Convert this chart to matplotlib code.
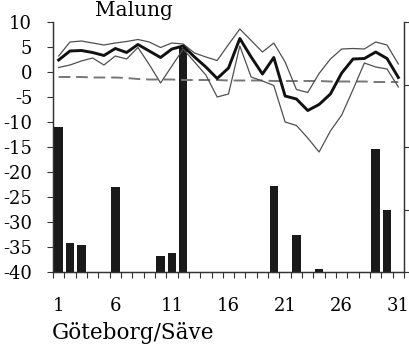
import matplotlib
matplotlib.use('Agg')
from matplotlib import pyplot as plt
import numpy as np

# daily temperatures, Malung (deg C)
days = list(range(1, 32))
t_max = [3.2, 6.0, 6.2, 5.8, 5.4, 5.8, 6.1, 6.5, 6.0, 4.9, 5.8, 5.6, 3.8, 3.0, 2.3, 5.5,
         8.6, 6.3, 4.0, 5.8, 2.0, -3.5, -4.1, -0.3, 2.6, 4.6, 4.7, 4.6, 6.0, 5.4, 1.6]
t_mean = [2.4, 4.2, 4.3, 3.9, 3.3, 4.7, 3.9, 5.5, 4.2, 2.9, 4.6, 5.2, 3.0, 1.0, -1.3, 0.8,
          6.7, 3.0, -0.4, 2.9, -4.8, -5.4, -7.7, -6.5, -4.4, -0.2, 2.6, 2.7, 4.0, 2.7, -1.1]
t_min = [0.9, 1.4, 2.2, 2.8, 1.4, 3.2, 2.6, 4.9, 1.5, -2.2, 1.2, 4.6, 2.0, -0.6, -5.0, -4.4,
         5.2, -1.0, -1.8, -2.7, -10.0, -10.7, -13.2, -16.0, -11.8, -8.6, -3.5, 1.8, 1.0, 0.6, -3.0]
t_normal = [-1.0, -1.0, -1.0, -1.1, -1.1, -1.1, -1.2, -1.4, -1.5, -1.5, -1.5, -1.6, -1.6, -1.6,
            -1.6, -1.7, -1.7, -1.7, -1.7, -1.8, -1.8, -1.8, -1.8, -1.8, -1.9, -1.9, -1.9, -1.9,
            -2.0, -2.0, -2.0]

# precipitation (mm), only days with rain
rain_days = [1, 2, 3, 6, 10, 11, 12, 20, 22, 24, 29, 30]
rain_mm = [23.2, 4.6, 4.3, 13.6, 2.6, 3.0, 35.8, 13.8, 5.9, 0.5, 19.7, 9.9]

y_ticks = [10, 5, 0, -5, -10, -15, -20, -25, -30, -35, -40]
x_ticks = [1, 6, 11, 16, 21, 26, 31]

serif = 'DejaVu Serif'
fs = 13

fig = plt.figure(figsize=(4.09, 3.47), dpi=100)
ax = fig.add_axes([53/409, 1-272/347, 351/409, 250/347])
ax2 = ax.twinx()

# bars on the rain axis, behind the temperature lines
ax2.bar(rain_days, rain_mm, width=0.75, color='#1a1a1a')
ax2.set_ylim(0, 40)
ax2.set_yticks([0, 10, 20, 30, 40])
ax2.set_yticklabels([])
ax2.tick_params(axis='y', direction='out', length=5, width=0.8, color='#333333')

ax.set_zorder(ax2.get_zorder() + 1)
ax.patch.set_visible(False)

ax.plot(days, t_normal, color='#777777', lw=1.4, dashes=(6, 3))
ax.plot(days, t_max, color='#505050', lw=0.9)
ax.plot(days, t_min, color='#505050', lw=0.9)
ax.plot(days, t_mean, color='#111111', lw=2.1)

ax.set_xlim(0.5, 31.5)
ax.set_ylim(-40, 10)
ax.set_yticks(y_ticks)
ax.set_yticklabels([str(v) for v in y_ticks], family=serif, fontsize=fs)
ax.tick_params(axis='y', direction='out', length=4, width=0.8, pad=11, color='#333333')

ax.set_xticks(x_ticks)
ax.set_xticklabels([str(v) for v in x_ticks], family=serif, fontsize=fs)
ax.set_xticks(np.arange(0.5, 32, 1), minor=True)
ax.tick_params(axis='x', which='major', length=0, pad=18)
ax.tick_params(axis='x', which='minor', direction='out', length=4, width=0.8, color='#333333')

for a in (ax, ax2):
    a.spines['top'].set_visible(False)
    for s in ('left', 'right', 'bottom'):
        a.spines[s].set_color('#333333')
        a.spines[s].set_linewidth(0.9)

fig.text(134/409, 1-16/347, 'Malung', family=serif, fontsize=14.5, ha='center', va='baseline')
fig.text(52/409, 1-339/347, 'Göteborg/Säve', family=serif, fontsize=15.5, ha='left', va='baseline')

fig.savefig('out.png', dpi=100)
